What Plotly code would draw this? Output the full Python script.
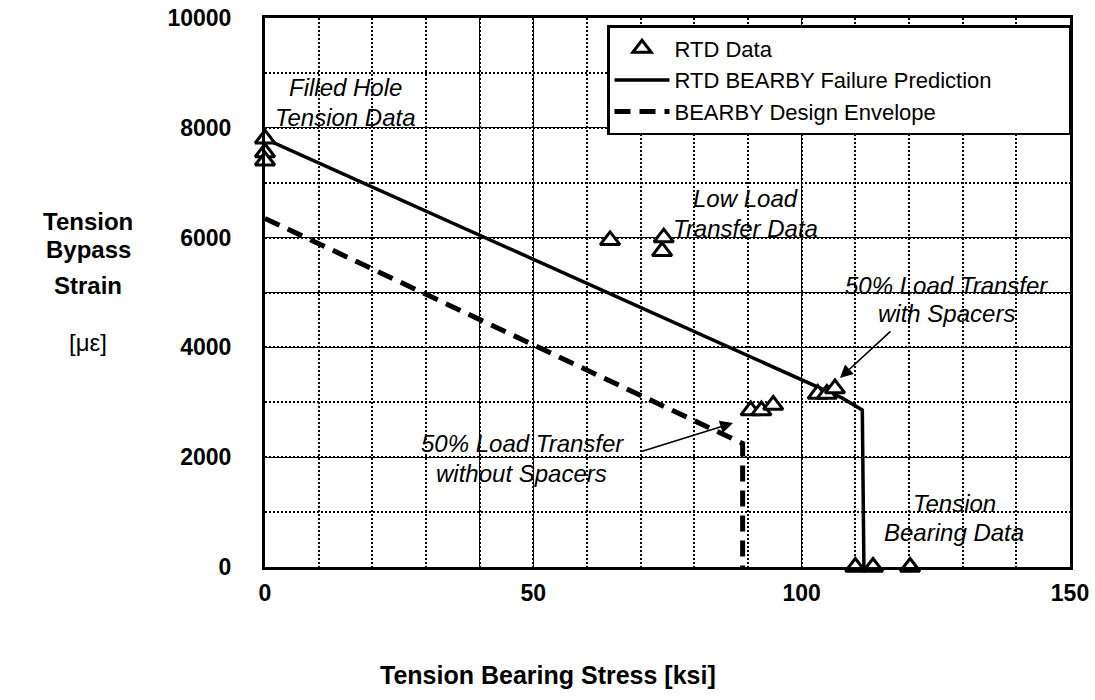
import plotly.graph_objects as go

# RTD test data: bearing stress [ksi] vs bypass strain [microstrain]
rtd_bearing = [0, 0, 0, 64.3, 74.3, 74.0, 90.5, 92.5, 94.7, 103.0, 104.7, 106.2, 110.0, 113.3, 120.2]
rtd_bypass = [7800, 7550, 7400, 5950, 6000, 5750, 2850, 2850, 2950, 3150, 3150, 3250, 0, 0, 0]

# BEARBY failure prediction curve
pred_bearing = [0, 107.5, 111.3, 111.6]
pred_bypass = [7800, 3080, 2860, 0]

# BEARBY design envelope
env_bearing = [0, 89.0, 89.0]
env_bypass = [6350, 2250, 0]

x_ticks = [0, 40, 50, 100, 150]
x_tick_text = ["0", "", "50", "100", "150"]
y_ticks = [0, 2000, 4000, 5000, 6000, 8000, 10000]
y_tick_text = ["0", "2000", "4000", "", "6000", "8000", "10000"]

FONT = "Liberation Sans, Arial, Helvetica, sans-serif"

fig = go.Figure()

fig.add_trace(go.Scatter(
    x=rtd_bearing, y=rtd_bypass, mode="markers", name="RTD Data",
    marker=dict(symbol="triangle-up", size=17, color="white",
                line=dict(color="black", width=3)),
    cliponaxis=False, legendrank=1,
))
fig.add_trace(go.Scatter(
    x=pred_bearing, y=pred_bypass, mode="lines", name="RTD BEARBY Failure Prediction",
    line=dict(color="black", width=3.5), legendrank=2,
))
fig.add_trace(go.Scatter(
    x=env_bearing, y=env_bypass, mode="lines", name="BEARBY Design Envelope",
    line=dict(color="black", width=5, dash="16px,9px"), legendrank=3,
))
# keep the data markers drawn above the curves
fig.data = (fig.data[1], fig.data[2], fig.data[0])

ann_font = dict(family=FONT, size=24, color="black")


def label(text, px, py):
    # place italic text at pixel position converted to data units
    fig.add_annotation(
        x=(px - 265) / 5.367, y=(567 - py) / 0.0549, xref="x", yref="y",
        text="<i>" + text + "</i>", showarrow=False, font=ann_font,
        xanchor="center", yanchor="middle",
    )


label("Filled Hole", 346, 87)
label("Tension Data", 346, 117)
label("Low Load", 746, 198)
label("Transfer Data", 746, 228)
label("50% Load Transfer", 947, 285)
label("with Spacers", 947, 313)
label("50% Load Transfer", 523, 443)
label("without Spacers", 522, 473)
label("Tension", 955, 503)
label("Bearing Data", 954, 532)


def arrow(tail, head):
    fig.add_annotation(
        x=(head[0] - 265) / 5.367, y=(567 - head[1]) / 0.0549,
        ax=(tail[0] - 265) / 5.367, ay=(567 - tail[1]) / 0.0549,
        xref="x", yref="y", axref="x", ayref="y", text="",
        showarrow=True, arrowhead=2, arrowsize=1.6, arrowwidth=1.6, arrowcolor="black",
    )


arrow((892, 330), (840, 378))
arrow((640, 452), (733, 423))

# axis titles
fig.add_annotation(
    x=(548 - 265) / 805, y=(567 - 675) / 549, xref="paper", yref="paper",
    text="<b>Tension Bearing Stress [ksi]</b>", showarrow=False,
    font=dict(family=FONT, size=25, color="black"), xanchor="center", yanchor="middle",
)
for txt, py in [("<b>Tension</b>", 221), ("<b>Bypass</b>", 250), ("<b>Strain</b>", 285), ("[με]", 342)]:
    fig.add_annotation(
        x=(88 - 265) / 805, y=(567 - py) / 549, xref="paper", yref="paper",
        text=txt, showarrow=False,
        font=dict(family=FONT, size=24, color="black"), xanchor="center", yanchor="middle",
    )

axis_common = dict(
    showline=True, linecolor="black", linewidth=3, mirror=True,
    showgrid=True, gridcolor="black", gridwidth=1.3,
    zeroline=False, ticks="",
    tickfont=dict(family=FONT, size=23, color="black", weight="bold"),
)

fig.update_xaxes(
    range=[0, 150], tickvals=x_ticks, ticktext=x_tick_text, ticklabelstandoff=3,
    minor=dict(dtick=10, showgrid=True, gridcolor="black", gridwidth=1.5, griddash="2px,2px"),
    **axis_common,
)
fig.update_yaxes(
    range=[0, 10000], tickvals=y_ticks, ticktext=y_tick_text, ticklabelstandoff=26,
    minor=dict(dtick=1000, showgrid=True, gridcolor="black", gridwidth=1.5, griddash="2px,2px"),
    **axis_common,
)

fig.update_layout(
    width=1095, height=700,
    margin=dict(l=265, r=25, t=18, b=133, autoexpand=False),
    paper_bgcolor="white", plot_bgcolor="white",
    legend=dict(
        orientation="h", traceorder="normal",
        x=(607 - 265) / 805, y=(567 - 25) / 549, xanchor="left", yanchor="top",
        bgcolor="white", bordercolor="black", borderwidth=2.5,
        font=dict(family=FONT, size=22, color="black"),
        itemwidth=55, entrywidth=389, entrywidthmode="pixels",
    ),
)

fig.write_html("out.html")
